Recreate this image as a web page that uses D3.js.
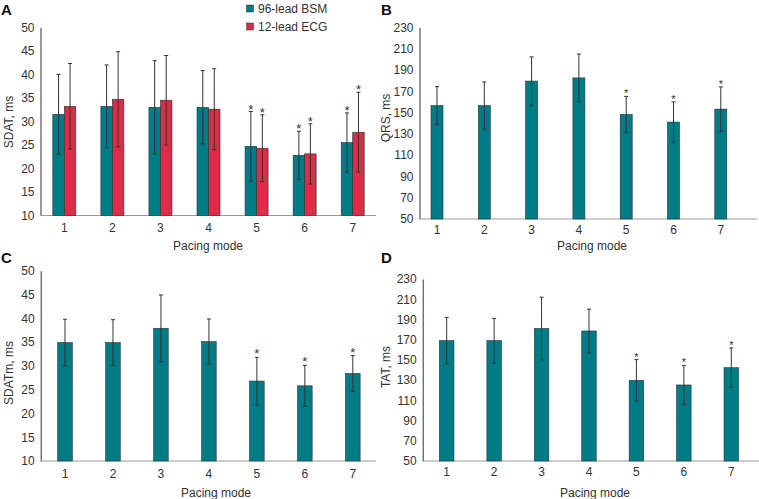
<!DOCTYPE html>
<html><head><meta charset="utf-8">
<script src="https://cdn.jsdelivr.net/npm/d3@7"></script>
<style>body{margin:0;background:#fff}svg{display:block;font-family:"Liberation Sans",Arial,sans-serif}</style>
</head><body>
<svg id="c" width="759" height="499"></svg>
<script>
const modes = ["1","2","3","4","5","6","7"];
const seriesNames = ["96-lead BSM","12-lead ECG"];
// Panel A: SDAT
const sdatBSM = [31.5,33.2,33.0,33.0,24.7,22.8,25.5];
const sdatBSMsd = [8.5,8.8,9.9,7.8,7.4,5.1,6.3];
const sdatECG = [33.2,34.7,34.5,32.6,24.3,23.1,27.7];
const sdatECGsd = [9.1,10.1,9.5,8.6,7.1,6.4,8.5];
// Panel B: QRS
const qrs = [156.5,156.5,179.5,182.5,148.2,141,153.2];
const qrsSd = [17.8,22.2,22.7,22.4,16.9,19,20.8];
// Panel C: SDATm
const sdatm = [34.9,34.9,37.9,35.1,26.8,25.8,28.4];
const sdatmSd = [4.9,4.8,7.0,4.75,5.0,4.3,3.75];
// Panel D: TAT
const tat = [169,169,181,178.6,129.8,125.2,142.3];
const tatSd = [23,22,31,21.5,20.5,19.3,19.5];
const significant = [false,false,false,false,true,true,true];
const ticksSDAT = [10,15,20,25,30,35,40,45,50];
const ticksMS = [50,70,90,110,130,150,170,190,210,230];

const TEAL = "#007c87", RED = "#de2b48";
const svg = d3.select("#c");

function panel(o){
  const g = svg.append("g");
  const step = o.step;
  const x = d3.scaleBand().domain(modes)
      .range([o.c0 - step/2, o.c0 - step/2 + step*modes.length]).padding(0);
  const y = d3.scaleLinear().domain(o.domain).range([o.yb, o.yt]);
  const ya = g.append("g").attr("transform",`translate(${o.ax},0)`)
    .call(d3.axisLeft(y).tickValues(o.ticks).tickSize(0).tickPadding(6));
  ya.select(".domain").attr("stroke","#333");
  ya.selectAll("text").attr("font-size",12).attr("fill","#333").attr("font-family","Liberation Sans, Arial, sans-serif");
  const xa = g.append("g").attr("transform",`translate(0,${o.yb})`)
    .call(d3.axisBottom(x).tickSize(0).tickPadding(o.xpad));
  xa.select(".domain").remove();
  xa.selectAll("text").attr("font-size",12).attr("fill","#333").attr("font-family","Liberation Sans, Arial, sans-serif");
  g.append("line").attr("x1",o.ax).attr("x2",o.axEnd).attr("y1",o.yb).attr("y2",o.yb)
    .attr("stroke","#999").attr("stroke-width",1);
  const n = o.series.length;
  o.series.forEach((s,si)=>{
    const rows = s.v.map((v,i)=>({v, sd:s.sd[i], i, sig:significant[i]}));
    const cx = d => x(modes[d.i]) + step/2 + (si - (n-1)/2)*o.bw;
    const gg = g.append("g");
    gg.selectAll("rect").data(rows).join("rect")
      .attr("x",d=>cx(d)-o.bw/2).attr("width",o.bw)
      .attr("y",d=>y(d.v)).attr("height",d=>o.yb - y(d.v))
      .attr("fill",s.color).attr("stroke","#1f3438").attr("stroke-width",0.6);
    const eb = gg.selectAll("g.e").data(rows).join("g").attr("class","e");
    eb.append("line").attr("x1",cx).attr("x2",cx)
      .attr("y1",d=>y(d.v+d.sd)).attr("y2",d=>y(d.v-d.sd))
      .attr("stroke","#333").attr("stroke-width",1);
    eb.append("line").attr("x1",d=>cx(d)-2).attr("x2",d=>cx(d)+2)
      .attr("y1",d=>y(d.v+d.sd)).attr("y2",d=>y(d.v+d.sd))
      .attr("stroke","#333").attr("stroke-width",1);
    eb.append("line").attr("x1",d=>cx(d)-2).attr("x2",d=>cx(d)+2)
      .attr("y1",d=>y(d.v-d.sd)).attr("y2",d=>y(d.v-d.sd))
      .attr("stroke","#333").attr("stroke-width",1);
    gg.selectAll("text.star").data(rows.filter(d=>d.sig)).join("text").attr("class","star")
      .attr("x",cx).attr("y",d=>y(d.v+d.sd)+o.starDy)
      .attr("text-anchor","middle").attr("font-size",o.starSize).attr("fill","#333").text("*");
  });
  g.append("text").attr("transform",`translate(${o.ytx},${o.yty}) rotate(-90)`)
    .attr("text-anchor","middle").attr("font-size",12).attr("fill","#333").text(o.ytitle);
  g.append("text").attr("x",o.xtx).attr("y",o.xty).attr("text-anchor","middle")
    .attr("font-size",12).attr("fill","#333").text("Pacing mode");
  g.append("text").attr("x",o.lx).attr("y",o.ly).attr("font-size",15)
    .attr("font-weight","bold").attr("fill","#111").text(o.label);
}

panel({label:"A",lx:1,ly:15,ax:40.5,axEnd:376,c0:64.3,step:48.07,bw:11.5,
  domain:[10,50],ticks:ticksSDAT,yb:215.5,yt:27.3,xpad:8,
  series:[{v:sdatBSM,sd:sdatBSMsd,color:TEAL},{v:sdatECG,sd:sdatECGsd,color:RED}],
  ytitle:"SDAT, ms",ytx:13,yty:122,xtx:208,xty:250,starDy:2,starSize:13});
panel({label:"B",lx:381,ly:15,ax:419.5,axEnd:757,c0:437,step:47.3,bw:12,
  domain:[50,230],ticks:ticksMS,yb:219,yt:27.3,xpad:6,
  series:[{v:qrs,sd:qrsSd,color:TEAL}],
  ytitle:"QRS, ms",ytx:390,yty:118,xtx:592,xty:250,starDy:1,starSize:11});
panel({label:"C",lx:1,ly:263,ax:40.7,axEnd:376,c0:65,step:47.97,bw:14.6,
  domain:[10,50],ticks:ticksSDAT,yb:461,yt:270.7,xpad:8,
  series:[{v:sdatm,sd:sdatmSd,color:TEAL}],
  ytitle:"SDATm, ms",ytx:13,yty:373,xtx:216,xty:497,starDy:1,starSize:13});
panel({label:"D",lx:381,ly:263,ax:422.7,axEnd:759,c0:446.7,step:47.43,bw:14.5,
  domain:[50,230],ticks:ticksMS,yb:461,yt:279,xpad:6,
  series:[{v:tat,sd:tatSd,color:TEAL}],
  ytitle:"TAT, ms",ytx:390,yty:367,xtx:595,xty:497,starDy:1,starSize:11});

const leg = svg.append("g");
[[seriesNames[0],TEAL,9],[seriesNames[1],RED,27]].forEach(([t,c,yy])=>{
  leg.append("rect").attr("x",246.5).attr("y",yy-4).attr("width",7).attr("height",7)
    .attr("fill",c).attr("stroke","#333").attr("stroke-width",0.5);
  leg.append("text").attr("x",258).attr("y",yy+4).attr("font-size",12).attr("fill","#333").text(t);
});
</script>
</body></html>
